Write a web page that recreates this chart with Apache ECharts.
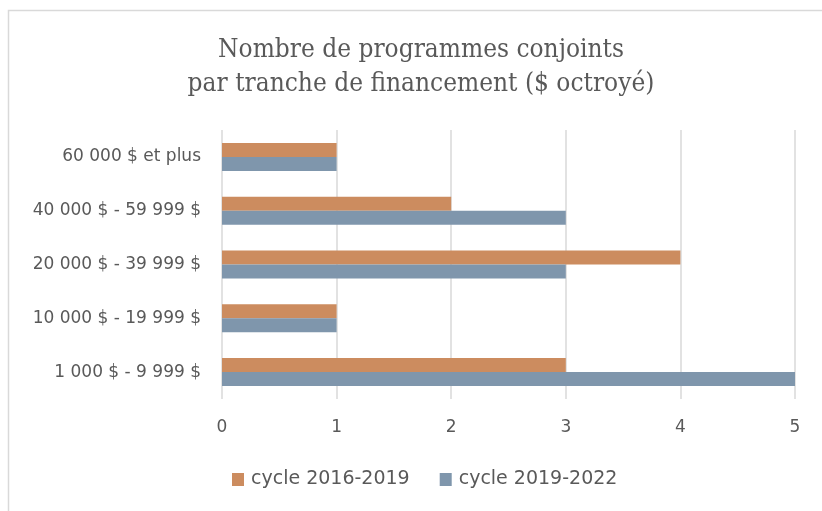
<!DOCTYPE html>
<html>
<head>
<meta charset="utf-8">
<script src="https://cdn.jsdelivr.net/npm/echarts@6/dist/echarts.min.js"></script>
<style>
  html, body { margin: 0; padding: 0; background: #fff; }
</style>
</head>
<body>
<div id="myChart" style="width: 822px;height:511px;"></div>
<script>
  // categories bottom -> top
  var categories = ['1 000 $ - 9 999 $', '10 000 $ - 19 999 $', '20 000 $ - 39 999 $', '40 000 $ - 59 999 $', '60 000 $ et plus'];
  var cycle2016 = [3, 1, 4, 2, 1];
  var cycle2019 = [5, 1, 3, 3, 1];
  var seriesNames = ['cycle 2016-2019', 'cycle 2019-2022'];
  var xTicks = [0, 1, 2, 3, 4, 5];

  var myChart = echarts.init(document.getElementById('myChart'));
  var textFont = 'DejaVu Sans';

  var option = {
    animation: false,
    title: {
      text: 'Nombre de programmes conjoints\npar tranche de financement ($ octroyé)',
      left: 416,
      textAlign: 'center',
      top: 28,
      textStyle: {
        fontFamily: 'DejaVu Serif Condensed',
        fontWeight: 'normal',
        fontSize: 26,
        lineHeight: 34,
        color: '#595959'
      }
    },
    graphic: [{
      type: 'rect',
      shape: { x: 8.5, y: 10.5, width: 900, height: 600 },
      style: { fill: 'none', stroke: '#d9d9d9', lineWidth: 1.5 },
      silent: true
    }],
    legend: {
      left: 227,
      top: 465,
      itemWidth: 12,
      itemHeight: 13,
      itemGap: 30,
      icon: 'rect',
      data: seriesNames,
      textStyle: { fontFamily: textFont, fontSize: 19, color: '#595959', padding: [0, 0, 0, 2] }
    },
    grid: { left: 222, right: 27, top: 130, bottom: 112 },
    xAxis: {
      type: 'value',
      min: xTicks[0],
      max: xTicks[xTicks.length - 1],
      interval: 1,
      axisLine: { show: false },
      axisTick: { show: false },
      axisLabel: { fontFamily: textFont, fontSize: 17, color: '#595959', margin: 20 },
      splitLine: { lineStyle: { color: '#d9d9d9', width: 1.5 } }
    },
    yAxis: {
      type: 'category',
      data: categories,
      axisLine: { show: false },
      axisTick: { show: false },
      axisLabel: { fontFamily: textFont, fontSize: 17, color: '#595959', margin: 21 }
    },
    series: [
      {
        name: seriesNames[0],
        type: 'bar',
        data: cycle2016,
        barGap: '0%',
        barCategoryGap: '48%',
        itemStyle: { color: '#cc8c5f' }
      },
      {
        name: seriesNames[1],
        type: 'bar',
        data: cycle2019,
        barGap: '0%',
        barCategoryGap: '48%',
        itemStyle: { color: '#7f96ac' }
      }
    ]
  };
  myChart.setOption(option);
</script>
</body>
</html>
